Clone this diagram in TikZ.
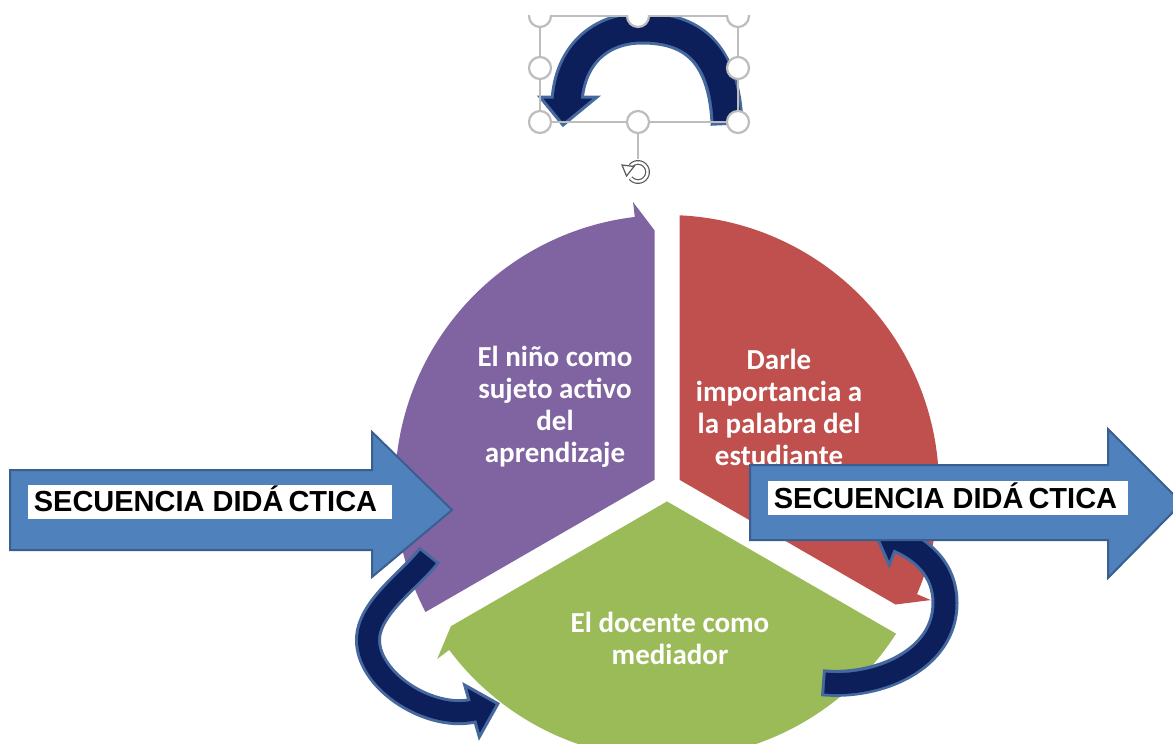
\documentclass[tikz,border=0pt]{standalone}
\usepackage{fontspec}
\setmainfont{Carlito}
\newfontfamily\arialfont{Liberation Sans}
\definecolor{purp}{HTML}{8064A2}
\definecolor{redseg}{HTML}{C0504D}
\definecolor{greenseg}{HTML}{9BBB59}
\definecolor{bluearrow}{HTML}{4F81BD}
\definecolor{bluestroke}{HTML}{3A5F8E}
\definecolor{navy}{HTML}{0C1F5B}
\definecolor{navyborder}{HTML}{45699F}
\definecolor{handlegray}{HTML}{BDBDBD}
\definecolor{icongray}{HTML}{5A5A5A}
\newcommand\cycseg[3]{%
  \pgfmathsetmacro\segA{#2+2.634}%
  \pgfmathsetmacro\segB{#3-6.8}%
  \pgfmathsetmacro\segM{#2+60}%
  \pgfmathsetmacro\segT{#3-2.787}%
  \fill[#1] ({667+14.43*cos(\segM)},{487+14.43*sin(\segM)})
    -- plot[domain=\segA:\segB, samples=80] ({667+272*cos(\x)},{487+272*sin(\x)})
    -- ({667+287*cos(\segB)},{487+287*sin(\segB)})
    -- ({667+257*cos(\segT)},{487+257*sin(\segT)})
    -- cycle;}
\tikzset{
  segtext/.style={text=white, align=center, inner sep=0pt,
    font=\bfseries\fontsize{29}{32}\selectfont},
  bigarrow/.style={fill=bluearrow, draw=bluestroke, line width=2, line join=miter},
  seqtext/.style={font=\arialfont\bfseries\fontsize{29}{32}\selectfont, text=black, inner sep=0pt},
  labelbox/.style={fill=white},
  bandouter/.style={draw=navyborder, line width=#1, shorten <=-3},
  bandinner/.style={draw=navy, line width=#1},
  bandhead/.style={fill=navy, draw=navyborder, line width=3, line join=miter},
  handle/.style={circle, fill=white, draw=handlegray, line width=2.2, minimum size=22, inner sep=0pt},
  selbox/.style={draw=handlegray, line width=1.6},
  roticon/.style={draw=icongray, line width=1.2, double=white, double distance=2.4}
}
\begin{document}
\begin{tikzpicture}[x=1pt,y=-1pt]
\useasboundingbox (0,0) rectangle (1173,744);
\clip (0,0) rectangle (1173,744);
\fill[white] (0,0) rectangle (1173,744);

% cycle segments
\cycseg{purp}{150}{270}
\cycseg{redseg}{270}{390}
\cycseg{greenseg}{30}{150}

% segment texts
\node[segtext] (tpurple) at (555,407) {El niño como\\sujeto activo\\del\\aprendizaje};
\node[segtext] (tred) at (779,407) {Darle\\importancia a\\la palabra del\\estudiante};
\node[segtext] (tgreen) at (670,638) {El docente como\\mediador};

% right curved arrow (under the right block arrow)
\coordinate (R0) at (825,683);
\coordinate (R1) at (945,603);
\coordinate (R2) at (895,538.5);
\draw[bandouter=27] (R0) .. controls (878,688) and (945,660) .. (R1) .. controls (945,570) and (923,550) .. (R2);
\draw[bandhead] (889.3,565.1) -- (873.9,530.3) -- (908.7,514.9) -- cycle;
\draw[bandinner=21] (R0) .. controls (878,688) and (945,660) .. (R1) .. controls (945,570) and (923,550) .. (R2);

% block arrows
\draw[bigarrow] (10,470) -- (372,470) -- (372,432) -- (452,510) -- (372,577) -- (372,550) -- (10,550) -- cycle;
\fill[labelbox] (28,485) rectangle (392,519);
\node[seqtext, anchor=base] (sleft) at (205.5,511.7) {SECUENCIA DIDÁ\kern5pt CTICA};

\draw[bigarrow] (750,465) -- (1108,465) -- (1108,429) -- (1182,503) -- (1108,578) -- (1108,540) -- (750,540) -- cycle;
\fill[labelbox] (768,481) rectangle (1128,515);
\node[seqtext, anchor=base] (sright) at (945.5,508.3) {SECUENCIA DIDÁ\kern5pt CTICA};

% left curved arrow
\coordinate (L0) at (428,557);
\coordinate (L1) at (368,640);
\coordinate (L2) at (476,710);
\draw[bandouter=26] (L0) .. controls (410,580) and (368,608) .. (L1) .. controls (368,682) and (432,722) .. (L2);
\draw[bandhead] (464.7,685.1) -- (497.9,703.7) -- (479.3,736.9) -- cycle;
\draw[bandinner=20] (L0) .. controls (410,580) and (368,608) .. (L1) .. controls (368,682) and (432,722) .. (L2);

% top curved arrow (selected shape)
\coordinate (T0) at (727,122);
\coordinate (T1) at (642,28);
\coordinate (T2) at (567,101);
\draw[bandouter=33] (T0) .. controls (724,50) and (690,28) .. (T1) .. controls (600,28) and (570,55) .. (T2);
\draw[bandhead] (540,97) -- (597,97) -- (563,125) -- cycle;
\draw[bandinner=27] (T0) .. controls (724,50) and (690,28) .. (T1) .. controls (600,28) and (570,55) .. (T2);

% selection frame and handles
\draw[selbox] (540,16) rectangle (738,122);
\node[handle] (h1) at (540,16) {};
\node[handle] (h2) at (638,16) {};
\node[handle] (h3) at (738,16) {};
\node[handle] (h4) at (540,68) {};
\node[handle] (h5) at (738,68) {};
\node[handle] (h6) at (540,122) {};
\node[handle] (h7) at (638,122) {};
\node[handle] (h8) at (738,122) {};
\coordinate (rot) at (638,172);
\draw[selbox] (h7.south) -- (638,159);
\draw[roticon] plot[domain=220:500, samples=60] ({638+9.5*cos(\x)},{172+9.5*sin(\x)});
\draw[icongray, line width=1.2, fill=white, line join=miter] (622,165) -- (634,166.5) -- (626.5,176) -- cycle;

% screenshot crop at the top
\fill[white] (0,0) rectangle (1173,15);
\end{tikzpicture}
\end{document}
